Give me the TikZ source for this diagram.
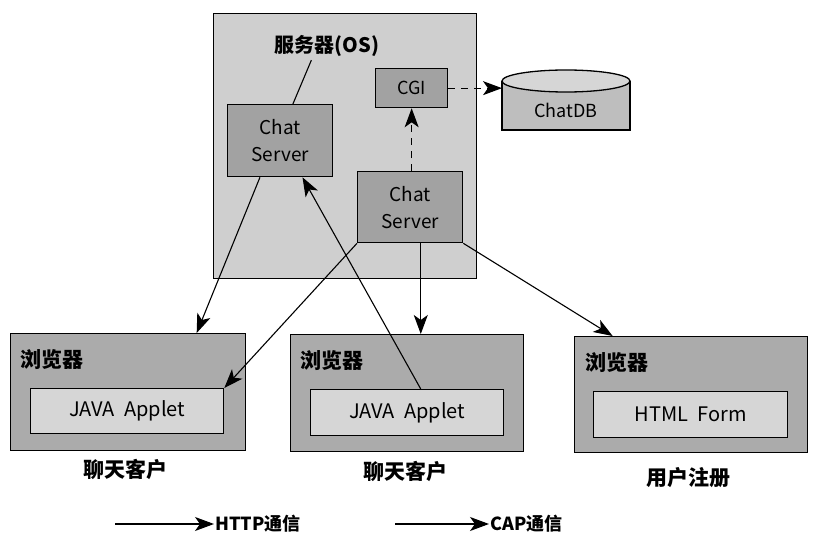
\documentclass[tikz,border=0pt]{standalone}
\usepackage{fontspec}
\setmainfont{Noto Sans CJK SC}
\usetikzlibrary{arrows.meta,calc}
\definecolor{srvfill}{HTML}{CFCFCF}
\definecolor{csfill}{HTML}{A2A2A2}
\definecolor{brfill}{HTML}{ABABAB}
\definecolor{infill}{HTML}{D6D6D6}
\definecolor{dbfill}{HTML}{BEBEBE}
\tikzset{
  box/.style={draw=black, line width=1.3pt, anchor=north west, inner sep=0pt},
  srvbox/.style={box, fill=srvfill},
  csbox/.style={box, fill=csfill, font=\fontsize{19}{27}\selectfont, align=center},
  brbox/.style={box, fill=brfill},
  inbox/.style={box, fill=infill, font=\fontsize{20}{24}\selectfont},
  lbl/.style={font=\fontsize{21}{24}\selectfont\bfseries},
  conn/.style={line width=1.1pt, -{Stealth[length=19pt,width=14pt,inset=5pt]}},
  dconn/.style={conn, dash pattern=on 7pt off 6pt}
}
\begin{document}
\begin{tikzpicture}[x=1pt,y=-1pt]
\useasboundingbox[fill=white] (0,0) rectangle (815,543);
% server
\node[srvbox, minimum width=263, minimum height=265] (srv) at (213,13) {};
\node[font=\fontsize{20}{24}\selectfont\bfseries] (srvlbl) at (327,46) {服务器(OS)};
\node[csbox, minimum width=105, minimum height=72] (lcs) at (227,104) {Chat\\Server};
\node[csbox, minimum width=72, minimum height=39, font=\fontsize{18}{22}\selectfont] (cgi) at (375,68) {CGI};
\node[csbox, minimum width=105, minimum height=71] (rcs) at (357,171) {Chat\\Server};
% db cylinder
\fill[dbfill] (502,81) rectangle (630,130);
\draw[line width=1.3pt] (502,81) -- (502,130) -- (630,130) -- (630,81);
\draw[line width=1.3pt, fill=infill] (566,81) ellipse [x radius=64, y radius=11];
\node[inner sep=0pt, minimum width=128, minimum height=49, anchor=north west] (db) at (502,81) {};
\node[font=\fontsize{18}{22}\selectfont] (dbl) at (566,110) {ChatDB};
% browsers
\node[brbox, minimum width=235, minimum height=117] (b1) at (10,333) {};
\node[inbox, minimum width=193, minimum height=45] (j1) at (30,388) {JAVA\ \ Applet};
\node[lbl, anchor=west] (b1l) at (17,360) {浏览器};
\node[brbox, minimum width=233, minimum height=117] (b2) at (290,334) {};
\node[inbox, minimum width=193, minimum height=46] (j2) at (310,389) {JAVA\ \ Applet};
\node[lbl, anchor=west] (b2l) at (297,361) {浏览器};
\node[brbox, minimum width=233, minimum height=116] (b3) at (574,336) {};
\node[inbox, minimum width=194, minimum height=46] (h3) at (593,391) {HTML\ \ Form};
\node[lbl, anchor=west] (b3l) at (582,363) {浏览器};
% captions
\node[lbl] (c1) at (125,469) {聊天客户};
\node[lbl] (c2) at (405,471) {聊天客户};
\node[lbl] (c3) at (688,478) {用户注册};
% label line
\draw[line width=1.1pt] ($(srvlbl.south west)!0.36!(srvlbl.south east)$) -- ($(lcs.north west)!0.62!(lcs.north east)$);
% dashed
\draw[dconn] (rcs.north -| cgi.south) -- (cgi.south);
\draw[dconn] (cgi.east) -- (cgi.east -| db.west);
% connectors
\coordinate (rcsb) at ($(rcs.south west)!0.6!(rcs.south east)$);
\draw[conn] ($(lcs.south west)!0.31!(lcs.south east)$) -- ($(b1.north west)!0.79!(b1.north east)$);
\draw[conn] (rcs.south west) -- (j1.north east);
\draw[conn] ($(j2.north west)!0.57!(j2.north east)$) -- ($(lcs.south west)!0.71!(lcs.south east)$);
\draw[conn] (rcsb) -- (rcsb |- b2.north);
\draw[conn] (rcs.south east) -- ($(b3.north west)!0.165!(b3.north east)$);
% legend
\coordinate (l1a) at (115,524);
\node[anchor=west, inner sep=1pt, font=\fontsize{18}{22}\selectfont\bfseries] (l1) at (214,524) {HTTP通信};
\draw[conn] (l1a) -- (l1.west);
\coordinate (l2a) at (395,524);
\node[anchor=west, inner sep=1pt, font=\fontsize{18}{22}\selectfont\bfseries] (l2) at (489,524) {CAP通信};
\draw[conn] (l2a) -- (l2.west);
\end{tikzpicture}
\end{document}
